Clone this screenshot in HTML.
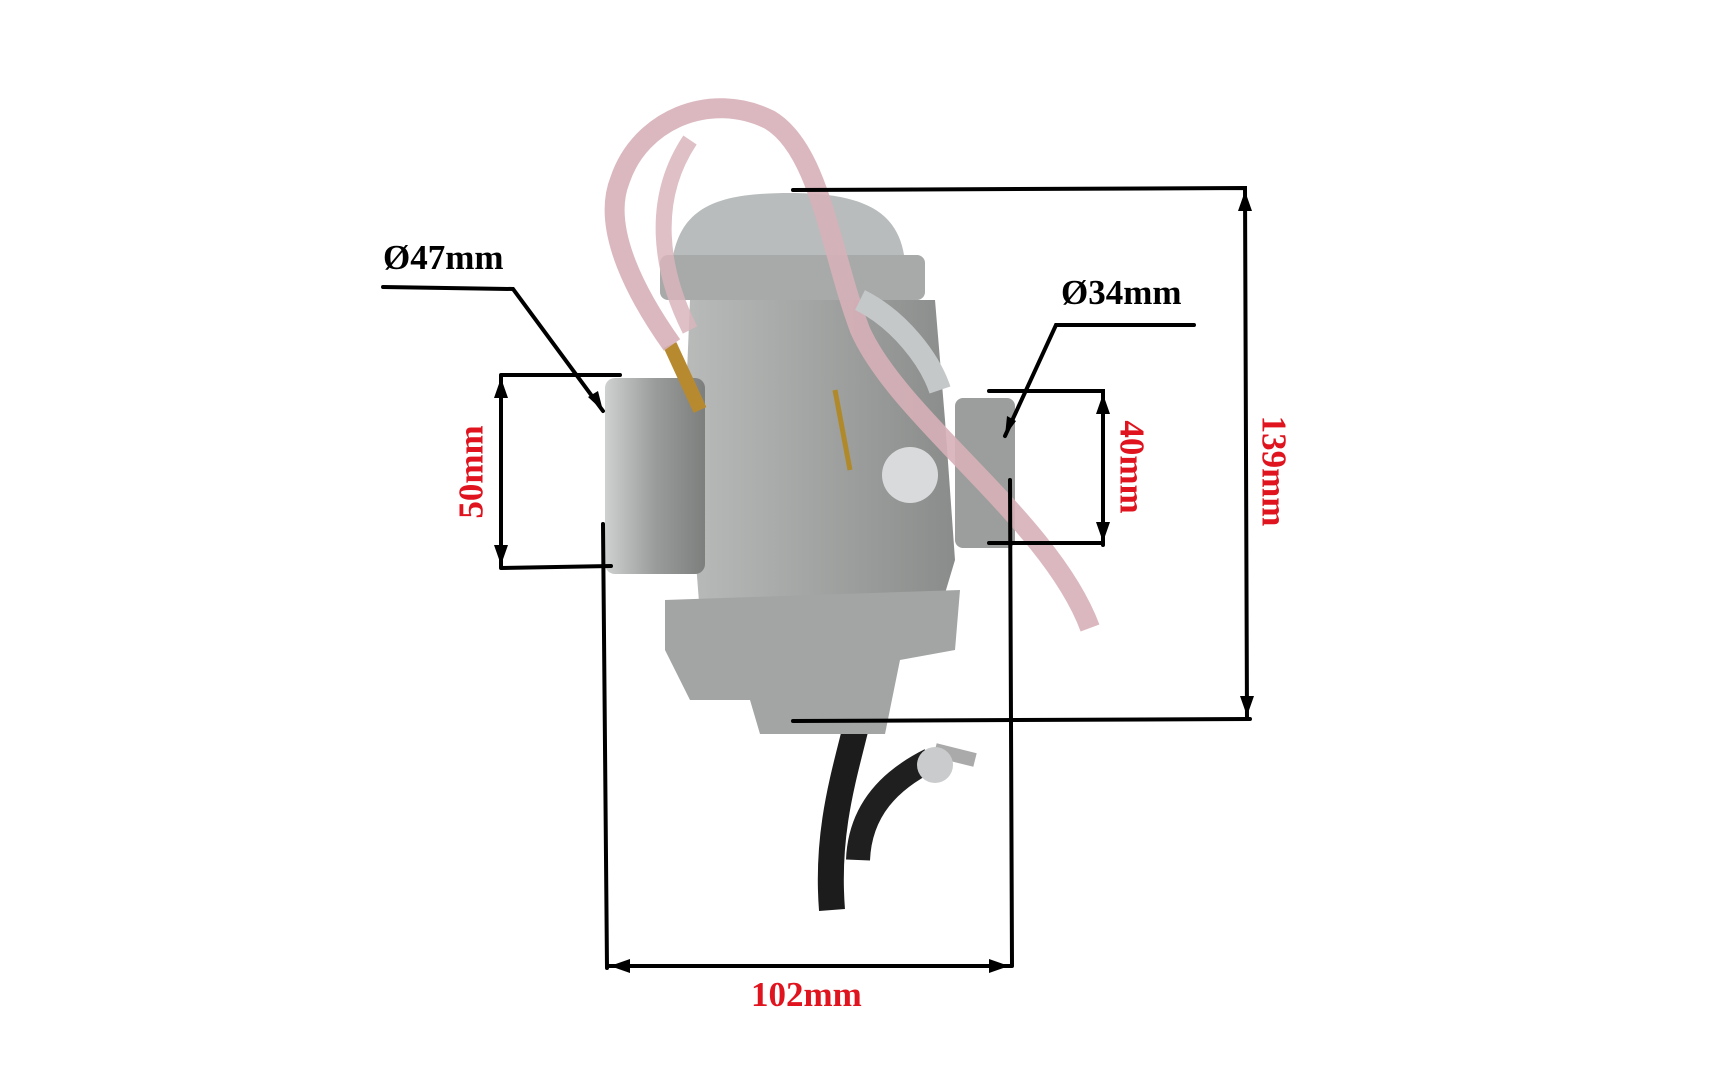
<!DOCTYPE html>
<html><head><meta charset="utf-8"><style>
html,body{margin:0;padding:0;background:#fff;width:1713px;height:1080px;overflow:hidden}
.t{position:absolute;font-family:"Liberation Serif",serif;font-weight:bold;white-space:nowrap;font-size:35px}
</style></head><body>
<svg width="1713" height="1080" style="position:absolute;left:0;top:0">
<defs>
<linearGradient id="g1" x1="0" x2="1"><stop offset="0" stop-color="#cfd1d0"/><stop offset="0.5" stop-color="#9a9c9b"/><stop offset="1" stop-color="#7d7f7e"/></linearGradient>
<linearGradient id="g2" x1="0" x2="1"><stop offset="0" stop-color="#b9bbba"/><stop offset="1" stop-color="#8a8c8b"/></linearGradient>
</defs>
<path d="M862 700 C850 760 825 820 832 910" stroke="#1c1c1c" stroke-width="26" fill="none"/>
<path d="M858 860 C860 810 890 780 930 760" stroke="#1f1f1f" stroke-width="24" fill="none"/>
<path d="M672 262 C680 205 720 193 790 193 C870 193 900 215 905 262 Z" fill="#b8bcbc"/>
<rect x="660" y="255" width="265" height="45" rx="8" fill="#a7aaa9"/>
<path d="M690 300 L935 300 L945 420 L955 560 L940 610 L700 615 L685 420 Z" fill="url(#g2)"/>
<rect x="605" y="378" width="100" height="196" rx="10" fill="url(#g1)"/>
<rect x="955" y="398" width="60" height="150" rx="8" fill="#9c9e9d"/>
<path d="M665 600 L960 590 L955 650 L900 660 L885 734 L760 734 L750 700 L690 700 L665 650 Z" fill="#a2a5a4"/>
<ellipse cx="910" cy="475" rx="28" ry="28" fill="#d8dadb"/>
<path d="M835 390 L850 470" stroke="#b08a2a" stroke-width="5"/>
<path d="M670 345 L700 410" stroke="#b88a30" stroke-width="14"/>
<path d="M935 750 L975 760" stroke="#aaa" stroke-width="14"/>
<circle cx="935" cy="765" r="18" fill="#c9cbcc"/>
<path d="M672 345 C640 300 600 230 620 180 C640 120 710 90 770 120 C820 150 830 250 860 330 C900 420 1050 520 1090 628" stroke="#d7b0b8" stroke-width="20" fill="none" opacity="0.9"/>
<path d="M690 330 C660 270 650 200 690 140" stroke="#d9b5bd" stroke-width="16" fill="none" opacity="0.85"/>
<path d="M860 300 C900 320 930 360 940 390" stroke="#c5c8c9" stroke-width="22" fill="none"/>
<g stroke="#000" stroke-width="4" fill="none" stroke-linecap="round">
<path d="M383 287 L513 289 L603 411"/>
<path d="M1194 325 L1056 325 L1005 436"/>
<path d="M501 375 L620 375 M501 375 L501 568 M501 568 L611 566"/>
<path d="M989 391 L1103 391 L1103 545 M989 543 L1103 543"/>
<path d="M603 524 L607 968 M1010 480 L1012 966 M607 966 L1012 966"/>
<path d="M793 190 L1245 188 L1247 719 M793 721 L1250 719"/>
</g>
<g fill="#000">
<polygon points="501,378 494,398 508,398"/><polygon points="501,565 494,545 508,545"/>
<polygon points="1103,394 1096,414 1110,414"/><polygon points="1103,542 1096,522 1110,522"/>
<polygon points="1245,191 1238,211 1252,211"/><polygon points="1247,716 1240,696 1254,696"/>
<polygon points="610,966 630,959 630,973"/><polygon points="1009,966 989,959 989,973"/>
<polygon points="603,411 588,397 598,391"/><polygon points="1005,436 1007,416 1016,421"/>
</g>
</svg>
<div class="t" style="left:383px;top:238px;color:#000">Ø47mm</div>
<div class="t" style="left:1061px;top:273px;color:#000">Ø34mm</div>
<div class="t" style="left:751px;top:975px;color:#e0141e">102mm</div>
<div class="t" style="left:425px;top:452px;color:#e0141e;transform:rotate(-90deg)">50mm</div>
<div class="t" style="left:1085px;top:447px;color:#e0141e;transform:rotate(90deg)">40mm</div>
<div class="t" style="left:1218px;top:451px;color:#e0141e;transform:rotate(90deg)">139mm</div>
</body></html>
